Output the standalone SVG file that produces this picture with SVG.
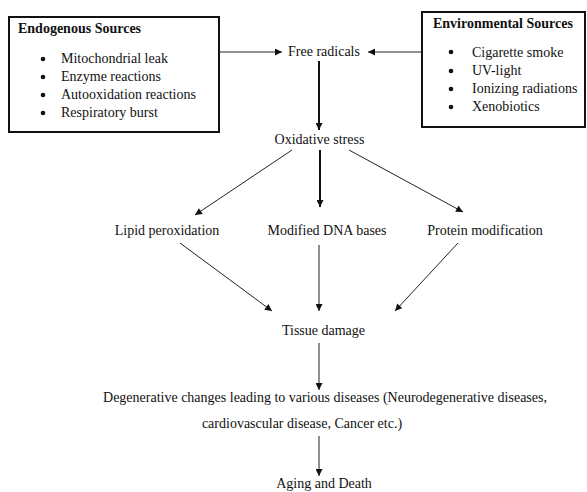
<svg xmlns="http://www.w3.org/2000/svg" width="587" height="492" viewBox="0 0 587 492">
<style>
text{font-family:"Liberation Serif","Times New Roman",serif;font-size:14px;fill:#111}
.b{font-weight:bold}
.box{fill:#fff;stroke:#111;stroke-width:2}
.c{text-anchor:middle}
.ln{stroke:#222;stroke-width:1;fill:none}
.th{stroke:#111;stroke-width:2;fill:none}
.dot{fill:#111}
</style>
<defs>
<marker id="ah" viewBox="0 0 10 10" refX="10" refY="5" markerWidth="8" markerHeight="7" markerUnits="userSpaceOnUse" orient="auto"><path d="M0,0L10,5L0,10z" fill="#111"/></marker>
<marker id="ah2" viewBox="0 0 10 10" refX="10" refY="5" markerWidth="8" markerHeight="7" markerUnits="userSpaceOnUse" orient="auto"><path d="M0,0L10,5L0,10z" fill="#111"/></marker>
</defs>
<rect width="587" height="492" fill="#fff"/>
<g id="endogenous">
<rect class="box" x="9" y="17" width="210" height="115"/>
<text class="b" x="18" y="33">Endogenous Sources</text>
<circle class="dot" cx="43" cy="59" r="2.3"/><text x="61" y="63">Mitochondrial leak</text>
<circle class="dot" cx="43" cy="77" r="2.3"/><text x="61" y="81">Enzyme reactions</text>
<circle class="dot" cx="43" cy="95" r="2.3"/><text x="61" y="99">Autooxidation reactions</text>
<circle class="dot" cx="43" cy="113" r="2.3"/><text x="61" y="117">Respiratory burst</text>
</g>
<g id="environmental">
<rect class="box" x="422" y="12" width="163" height="115"/>
<text class="b" x="433" y="28">Environmental Sources</text>
<circle class="dot" cx="451" cy="52" r="2.3"/><text x="472" y="57">Cigarette smoke</text>
<circle class="dot" cx="451" cy="71" r="2.3"/><text x="472" y="75">UV-light</text>
<circle class="dot" cx="451" cy="89" r="2.3"/><text x="472" y="93">Ionizing radiations</text>
<circle class="dot" cx="451" cy="107" r="2.3"/><text x="472" y="111">Xenobiotics</text>
</g>
<g id="free-radicals"><text class="c" x="324" y="56">Free radicals</text></g>
<g id="oxidative-stress"><text class="c" x="319.5" y="144">Oxidative stress</text></g>
<g id="lipid"><text class="c" x="167" y="235">Lipid peroxidation</text></g>
<g id="dna"><text class="c" x="327" y="235">Modified DNA bases</text></g>
<g id="protein"><text class="c" x="485" y="235">Protein modification</text></g>
<g id="tissue"><text class="c" x="323.5" y="335">Tissue damage</text></g>
<g id="degenerative">
<text class="c" x="325" y="402">Degenerative changes leading to various diseases (Neurodegenerative diseases,</text>
<text class="c" x="302" y="428">cardiovascular disease, Cancer etc.)</text>
</g>
<g id="aging"><text class="c" x="324" y="488">Aging and Death</text></g>
<g id="connectors">
<line class="ln" x1="219" y1="52" x2="282" y2="52" marker-end="url(#ah)"/>
<line class="ln" x1="422" y1="52" x2="368" y2="52" marker-end="url(#ah)"/>
<line class="th" x1="319" y1="61" x2="319" y2="130" marker-end="url(#ah2)"/>
<line class="ln" x1="292" y1="150" x2="195" y2="215" marker-end="url(#ah)"/>
<line class="th" x1="320" y1="150" x2="320" y2="207" marker-end="url(#ah2)"/>
<line class="ln" x1="349" y1="150" x2="463" y2="212" marker-end="url(#ah)"/>
<line class="ln" x1="180" y1="243" x2="272" y2="311" marker-end="url(#ah)"/>
<line class="ln" x1="319" y1="245" x2="319" y2="311" marker-end="url(#ah)"/>
<line class="ln" x1="458" y1="243" x2="395" y2="311" marker-end="url(#ah)"/>
<line class="ln" x1="319" y1="343" x2="319" y2="390" marker-end="url(#ah)"/>
<line class="ln" x1="319" y1="436" x2="319" y2="476" marker-end="url(#ah)"/>
</g>
</svg>
